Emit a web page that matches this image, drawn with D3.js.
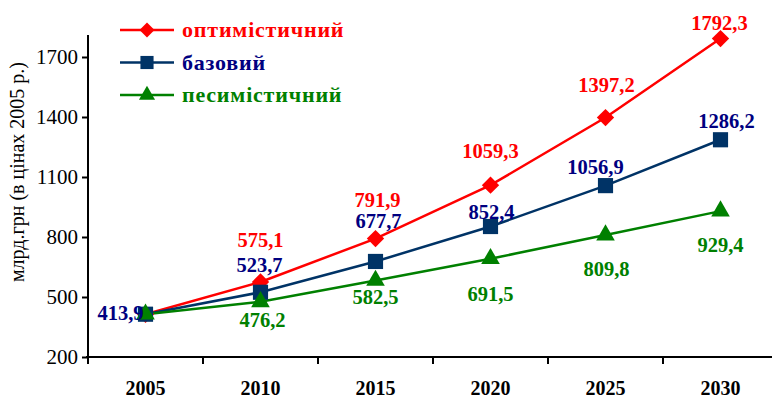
<!DOCTYPE html>
<meta charset="utf-8">
<style>
  body { margin: 0; background: #fff; }
  svg text { font-family: "Liberation Serif", "DejaVu Serif", serif; }
</style>
<body>
<script src="https://d3js.org/d3.v7.min.js"></script>
<script>

// data
var years = ["2005", "2010", "2015", "2020", "2025", "2030"];
var optimistic = [413.9, 575.1, 791.9, 1059.3, 1397.2, 1792.3];
var base = [413.9, 523.7, 677.7, 852.4, 1056.9, 1286.2];
var pessimistic = [413.9, 476.2, 582.5, 691.5, 809.8, 929.4];
var yTicks = [200, 500, 800, 1100, 1400, 1700];
var seriesNames = ["оптимістичний", "базовий", "песимістичний"];

// label placement (offsets from the point, px)
var labelOffsets = [
  [null, [0, -35], [2, -32], [0, -27], [1, -26], [-1, -9]],
  [[-2, 6], [-1, -20], [3, -33], [1, -8], [-10, -12], [6, -12]],
  [null, [2, 25], [0, 23], [0, 42], [1, 41], [0, 41]]
];

var width = 775, height = 400;
var svg = d3.select("body").append("svg")
  .attr("width", width)
  .attr("height", height);

var x = d3.scaleBand().domain(years).range([88, 778]);
var y = d3.scaleLinear().domain([200, 1810]).range([357, 35]);

var series = [
  {name: seriesNames[0], values: optimistic, line: "#ff0000", text: "#ff0000", marker: d3.symbolSquare, rot: 45, size: 150},
  {name: seriesNames[1], values: base, line: "#003366", text: "#000080", marker: d3.symbolSquare, rot: 0, size: 230},
  {name: seriesNames[2], values: pessimistic, line: "#008000", text: "#008000", marker: d3.symbolTriangle, rot: 0, size: 150}
];

// y axis
var yAxis = svg.append("g")
  .attr("transform", "translate(88,0)")
  .call(d3.axisLeft(y).tickValues(yTicks).tickFormat(d3.format("d")).tickSize(6).tickPadding(4));
yAxis.attr("font-family", null).attr("font-size", null);
yAxis.select(".domain").attr("stroke", "#000").attr("stroke-width", 2).attr("d", "M0," + y(200) + "V35");
yAxis.selectAll(".tick line").attr("stroke-width", 2);
yAxis.selectAll(".tick text").attr("font-size", 21).attr("fill", "#000");

// x axis
var xAxis = svg.append("g")
  .attr("transform", "translate(0,357)");
xAxis.append("line")
  .attr("x1", 86).attr("x2", 772)
  .attr("stroke", "#000").attr("stroke-width", 2);
xAxis.selectAll(".xtick")
  .data(years)
  .enter().append("line")
  .attr("x1", function(d) { return x(d); })
  .attr("x2", function(d) { return x(d); })
  .attr("y1", 0).attr("y2", 7)
  .attr("stroke", "#000").attr("stroke-width", 2);
xAxis.selectAll(".xlab")
  .data(years)
  .enter().append("text")
  .attr("x", function(d) { return x(d) + x.bandwidth() / 2; })
  .attr("y", 38)
  .attr("text-anchor", "middle")
  .attr("font-size", 20)
  .attr("font-weight", "bold")
  .text(function(d) { return d; });

// y title
svg.append("text")
  .attr("transform", "translate(24,172) rotate(-90)")
  .attr("text-anchor", "middle")
  .attr("font-size", 20)
  .text("млрд.грн (в цінах 2005 р.)");

var cx = function(i) { return x(years[i]) + x.bandwidth() / 2; };

var line = d3.line()
  .x(function(d, i) { return cx(i); })
  .y(function(d) { return y(d); });

// lines, markers
series.forEach(function(s) {
  svg.append("path")
    .datum(s.values)
    .attr("fill", "none")
    .attr("stroke", s.line)
    .attr("stroke-width", 2.5)
    .attr("d", line);
});
series.forEach(function(s) {
  svg.selectAll(null)
    .data(s.values)
    .enter().append("path")
    .attr("transform", function(d, i) { return "translate(" + cx(i) + "," + y(d) + ") rotate(" + s.rot + ")"; })
    .attr("d", d3.symbol().type(s.marker).size(s.size))
    .attr("fill", s.line);
});

// value labels
series.forEach(function(s, k) {
  s.values.forEach(function(v, i) {
    var off = labelOffsets[k][i];
    if (!off) return;
    svg.append("text")
      .attr("x", cx(i) + off[0])
      .attr("y", y(v) + off[1])
      .attr("text-anchor", i === 0 ? "end" : "middle")
      .attr("font-size", 20.5)
      .attr("font-weight", "bold")
      .attr("fill", s.text)
      .text(String(v).replace(".", ","));
  });
});

// legend
var legend = svg.append("g");
series.forEach(function(s, k) {
  var ly = 30 + k * 32.5;
  legend.append("line")
    .attr("x1", 120).attr("x2", 174)
    .attr("y1", ly).attr("y2", ly)
    .attr("stroke", s.line).attr("stroke-width", 2.5);
  legend.append("path")
    .attr("transform", "translate(147," + ly + ") rotate(" + s.rot + ")")
    .attr("d", d3.symbol().type(s.marker).size(s.size * 0.75))
    .attr("fill", s.line);
  legend.append("text")
    .attr("x", 182).attr("y", ly + 7)
    .attr("font-size", 22)
    .attr("letter-spacing", 0.8)
    .attr("font-weight", "bold")
    .attr("fill", s.text)
    .text(s.name);
});

</script>
</body>
